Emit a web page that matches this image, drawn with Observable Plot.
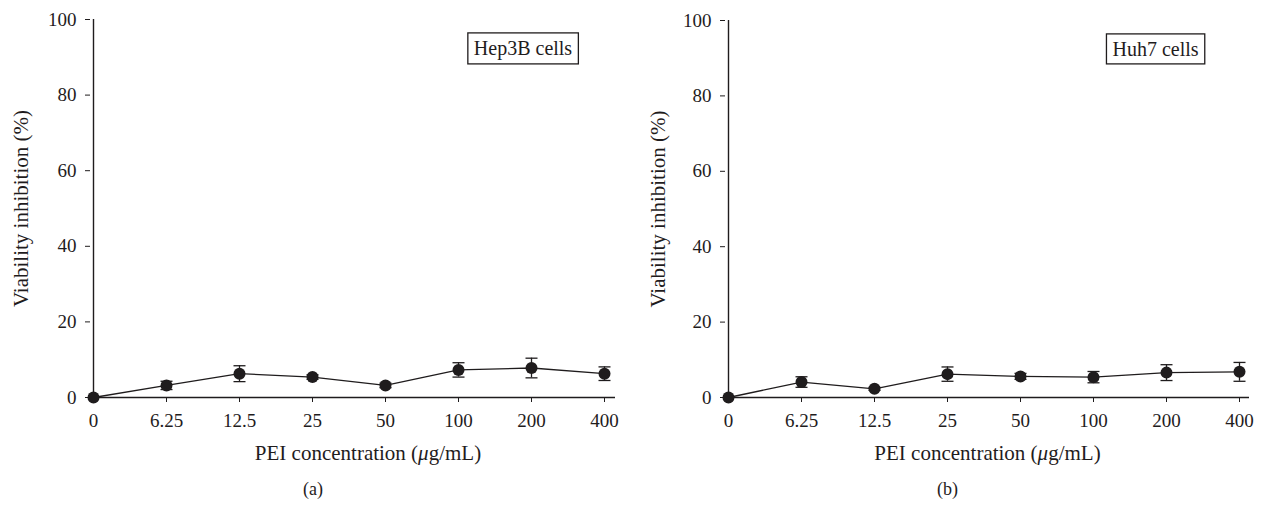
<!DOCTYPE html>
<html>
<head>
<meta charset="utf-8">
<script src="https://cdn.jsdelivr.net/npm/d3@7"></script>
<script src="https://cdn.jsdelivr.net/npm/@observablehq/plot@0.6"></script>
<style>
  html, body { margin: 0; padding: 0; background: #fff; }
  #wrap { display: flex; flex-direction: row; width: 1264px; height: 506px; }
  svg { font-family: "Liberation Serif", "DejaVu Serif", serif; }
  svg g[aria-label="x-axis tick label"], svg g[aria-label="y-axis tick label"] { font-size: 19px !important; }
  svg g[aria-label="x-axis tick label"] text, svg g[aria-label="y-axis tick label"] text { font-size: 19px !important; }
</style>
</head>
<body>
<div id="wrap"></div>
<script>
const concentrations = ["0", "6.25", "12.5", "25", "50", "100", "200", "400"];
const hep3bMean = [0, 3.2, 6.3, 5.4, 3.2, 7.3, 7.8, 6.3];
const hep3bErr  = [0, 1.1, 2.1, 0.6, 0.6, 1.9, 2.6, 1.8];
const huh7Mean  = [0, 4.1, 2.3, 6.2, 5.6, 5.4, 6.6, 6.8];
const huh7Err   = [0, 1.4, 0.4, 1.9, 0.8, 1.5, 2.1, 2.5];
const yTicks = [0, 20, 40, 60, 80, 100];
const xLabel = "PEI concentration (μg/mL)";
const yLabel = "Viability inhibition (%)";

const ink = "#1f1c1d";

const capSymbol = {
  draw(context, size) {
    const r = Math.sqrt(size / Math.PI);
    context.moveTo(-r, 0);
    context.lineTo(r, 0);
  }
};

function panel({means, errs, cellLabel, panelLabel, mLeft, mTop, mRight, insetR, xLabDx, panLabDx, yLabDx, boxDx}) {
  const rows = concentrations.map((c, i) => ({c, m: means[i], e: errs[i], lo: means[i] - errs[i], hi: means[i] + errs[i]}));
  const withErr = rows.filter(d => d.e > 0);
  const chart = Plot.plot({
    width: 632,
    height: 506,
    marginLeft: mLeft,
    marginTop: mTop,
    marginRight: mRight,
    marginBottom: 109,
    style: {fontFamily: "Liberation Serif, DejaVu Serif, serif", color: ink, background: "white"},
    x: {type: "point", domain: concentrations, padding: 0, insetRight: insetR},
    y: {domain: [0, 100]},
    marks: [
      Plot.ruleY([0], {stroke: ink, strokeWidth: 1.4}),
      Plot.ruleX([concentrations[0]], {stroke: ink, strokeWidth: 1.4}),
      Plot.axisY({ticks: yTicks, tickSize: 5, tickPadding: 9, fontSize: 19, label: null, stroke: ink, fill: ink}),
      Plot.axisX({tickSize: 5, tickPadding: 11, fontSize: 19, label: null, stroke: ink, fill: ink}),
      Plot.line(rows, {x: "c", y: "m", stroke: ink, strokeWidth: 1.3}),
      Plot.ruleX(withErr, {x: "c", y1: "lo", y2: "hi", stroke: ink, strokeWidth: 1.3}),
      Plot.dot(withErr, {x: "c", y: "lo", r: 6, symbol: capSymbol, stroke: ink, strokeWidth: 1.3, fill: "none"}),
      Plot.dot(withErr, {x: "c", y: "hi", r: 6, symbol: capSymbol, stroke: ink, strokeWidth: 1.3, fill: "none"}),
      Plot.dot(rows, {x: "c", y: "m", r: 6, fill: ink, stroke: "none"}),
      Plot.text([xLabel], {frameAnchor: "bottom", textAnchor: "middle", dx: xLabDx, dy: 56, fontSize: 21, fill: ink, lineAnchor: "middle", className: "xlab"}),
      Plot.text([panelLabel], {frameAnchor: "bottom", textAnchor: "middle", dx: panLabDx, dy: 92, fontSize: 18, fill: ink, lineAnchor: "middle"}),
      Plot.text([yLabel], {frameAnchor: "left", textAnchor: "middle", dx: yLabDx, rotate: -90, fontSize: 21, fill: ink, lineAnchor: "middle"}),
      Plot.text([cellLabel], {frameAnchor: "top", textAnchor: "middle", dx: boxDx, dy: 29, fontSize: 20, fill: ink, lineAnchor: "middle", className: "cellbox"})
    ]
  });
  return chart;
}

const wrap = document.getElementById("wrap");
const a = panel({means: hep3bMean, errs: hep3bErr, cellLabel: "Hep3B cells", panelLabel: "(a)",
  mLeft: 90, mTop: 19, mRight: 17, insetR: 8, xLabDx: 15, panLabDx: -40, yLabDx: -69, boxDx: 170});
const b = panel({means: huh7Mean, errs: huh7Err, cellLabel: "Huh7 cells", panelLabel: "(b)",
  mLeft: 93, mTop: 20, mRight: 15, insetR: 7, xLabDx: 0, panLabDx: -40, yLabDx: -67, boxDx: 168});
wrap.appendChild(a);
wrap.appendChild(b);

for (const svg of [a, b]) {
  d3.select(svg).selectAll('g[aria-label$="tick label"]').attr("font-size", 19).selectAll("text").attr("font-size", 19);
  // italic mu in axis label
  d3.select(svg).selectAll("g.xlab text").each(function() {
    const t = d3.select(this);
    const s = t.text();
    const i = s.indexOf("μ");
    if (i < 0) return;
    t.text(null);
    t.append("tspan").text(s.slice(0, i));
    t.append("tspan").attr("font-style", "italic").text("μ");
    t.append("tspan").text(s.slice(i + 1));
  });
  // frame box around the cell label
  d3.select(svg).selectAll("g.cellbox text").each(function() {
    const bb = this.getBBox();
    const g = this.parentNode;
    const tr = this.getAttribute("transform");
    const rect = document.createElementNS("http://www.w3.org/2000/svg", "rect");
    rect.setAttribute("x", bb.x - 6);
    rect.setAttribute("y", bb.y - 4);
    rect.setAttribute("width", bb.width + 12);
    rect.setAttribute("height", bb.height + 8);
    rect.setAttribute("fill", "white");
    rect.setAttribute("stroke", ink);
    rect.setAttribute("stroke-width", 1.3);
    if (tr) rect.setAttribute("transform", tr);
    g.insertBefore(rect, this);
  });
}
</script>
</body>
</html>
